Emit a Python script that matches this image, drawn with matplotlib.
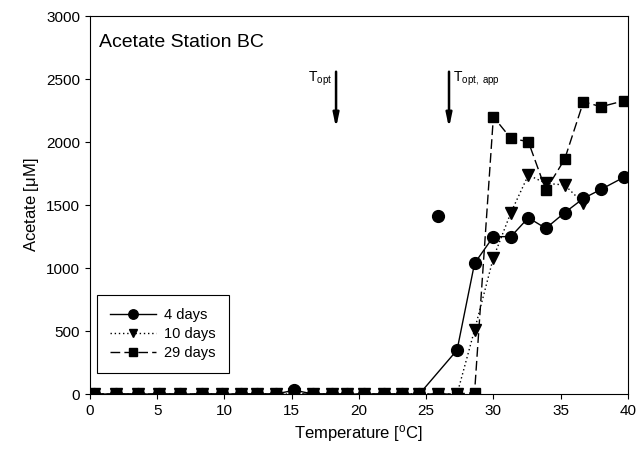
import matplotlib
matplotlib.use('Agg')
import matplotlib.pyplot as plt
import numpy as np

plt.rcParams['font.family'] = ['Liberation Sans', 'DejaVu Sans']
plt.rcParams['mathtext.fontset'] = 'custom'
plt.rcParams['mathtext.rm'] = 'Liberation Sans'
plt.rcParams['mathtext.it'] = 'Liberation Sans:italic'

# temperatures of the gradient block
temp = [0.3, 1.9, 3.6, 5.1, 6.7, 8.3, 9.8, 11.2, 12.4, 13.8, 15.2, 16.6, 18.0, 19.1,
        20.4, 21.9, 23.2, 24.5, 25.9, 27.3, 28.6, 30.0, 31.3, 32.6, 33.9, 35.3,
        36.7, 38.0, 39.7]

days4 = [0, 0, 0, 0, 0, 0, 0, 0, 0, 0, 30, 0, 0, 0,
         0, 0, 0, 0, 1415, 349, 1037, 1249, 1249, 1399, 1315, 1439,
         1553, 1624, 1720]
days4_outlier = [18]   # index of the point not joined by the line

days10 = [0, 0, 0, 0, 0, 0, 0, 0, 0, 0, 0, 0, 0, 0,
          0, 0, 0, 0, 0, 0, 508, 1082, 1439, 1738, 1672, 1659,
          1513]

days29 = [0, 0, 0, 0, 0, 0, 0, 0, 0, 0, 0, 0, 0, 0,
          0, 0, 0, 0, 0, 0, 10, 2200, 2029, 2003, 1619, 1863,
          2320, 2280, 2327]

t_opt = 18.3
t_opt_app = 26.7

fig = plt.figure(figsize=(6.4, 4.5), dpi=100)
ax = fig.add_axes([0.1406, 0.1244, 0.8404, 0.84])

t = np.array(temp)
d4 = np.array(days4, dtype=float)
keep = np.ones(len(t), bool)
keep[days4_outlier] = False

ax.plot(t[keep], d4[keep], color='black', lw=1, marker='o', ms=8.5, label='4 days', zorder=5)
ax.plot(t[~keep], d4[~keep], color='black', lw=0, marker='o', ms=8.5, zorder=5)
ax.plot(temp[:len(days10)], days10, color='black', lw=1, ls=(0, (1, 2)), marker='v',
        ms=8, label='10 days', zorder=4)
ax.plot(temp, days29, color='black', lw=1, ls=(0, (7, 3)), marker='s', ms=7.5,
        label='29 days', zorder=3)

for xa in [t_opt, t_opt_app]:
    ax.annotate('', xy=(xa, 2090), xytext=(xa, 2580),
                arrowprops=dict(arrowstyle='-|>,head_length=0.8,head_width=0.17',
                                color='black', lw=1.8))
ax.text(t_opt - 0.3, 2500, r'T$_{\mathregular{opt}}$', ha='right', va='center', fontsize=10)
ax.text(t_opt_app + 0.3, 2500, r'T$_{\mathregular{opt,\ app}}$', ha='left', va='center',
        fontsize=10)

ax.text(0.7, 2790, 'Acetate Station BC', fontsize=14, va='center')

ax.set_xlim(0, 40)
ax.set_ylim(0, 3000)
ax.set_xticks(range(0, 41, 5))
ax.set_yticks(range(0, 3001, 500))
ax.tick_params(direction='out', labelsize=11, top=False, right=False)
ax.set_xlabel(r'Temperature [$^{\mathregular{o}}$C]', fontsize=12)
ax.set_ylabel(r'Acetate [$\mathregular{\mu}$M]', fontsize=12)

leg = ax.legend(loc='lower left', bbox_to_anchor=(0.0, 0.035), fontsize=10.5,
                fancybox=False, edgecolor='black', framealpha=1, handlelength=3.1,
                borderpad=0.9, labelspacing=0.35, markerscale=0.8, handletextpad=0.6)
leg.get_frame().set_linewidth(0.8)
leg.set_zorder(10)

plt.savefig('out.png', dpi=100)
